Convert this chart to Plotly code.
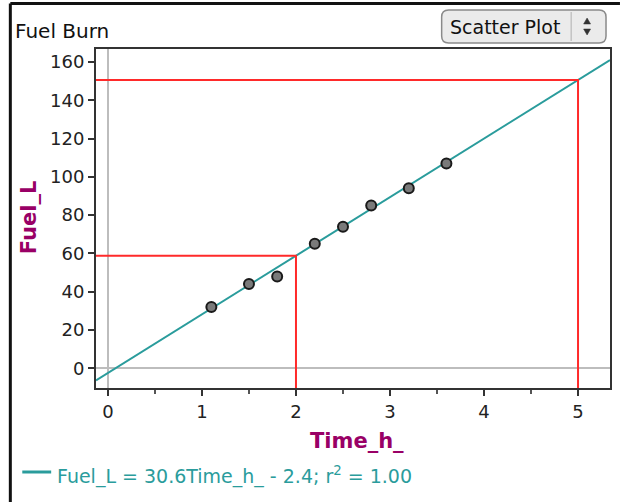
import plotly.graph_objects as go

# ---- data ----
time_h = [1.1, 1.5, 1.8, 2.2, 2.5, 2.8, 3.2, 3.6]
fuel_l = [32, 44, 48, 65, 74, 85, 94, 107]
slope = 30.6
intercept = -2.4
query_x = [2, 5]
x_ticks = [0, 1, 2, 3, 4, 5]
y_ticks = [0, 20, 40, 60, 80, 100, 120, 140, 160]
x_range = [-0.127, 5.34]
y_range = [-10.3, 166.8]

W, H = 620, 502
L, R, T, B = 96, 612, 49, 388
FONT = "DejaVu Sans, Verdana, sans-serif"
TEAL = "#2A9C9C"
RED = "#FF2A2A"
PURPLE = "#990066"


def px(x):
    return (x - L) / (R - L)


def py(y):
    return (B - y) / (B - T)


fig = go.Figure()

# regression line across the visible range
fig.add_trace(go.Scatter(
    x=x_range, y=[slope * v + intercept for v in x_range],
    mode="lines", line=dict(color=TEAL, width=2), hoverinfo="skip", showlegend=False))

# red read-off lines
for qx in query_x:
    qy = slope * qx + intercept
    fig.add_trace(go.Scatter(
        x=[x_range[0], qx, qx], y=[qy, qy, y_range[0]],
        mode="lines", line=dict(color=RED, width=2), hoverinfo="skip", showlegend=False))

# data points
fig.add_trace(go.Scatter(
    x=time_h, y=fuel_l, mode="markers",
    marker=dict(size=10, color="#7A7A7A", line=dict(color="#1A1A1A", width=2)),
    showlegend=False))

axis_common = dict(
    showgrid=False, zeroline=True, zerolinecolor="#BDBDBD", zerolinewidth=2,
    showline=True, linecolor="#333333", linewidth=2, mirror=True,
    ticks="outside", ticklen=6, tickwidth=2, tickcolor="#333333",
    tickfont=dict(family=FONT, size=18, color="#222222"),
)

fig.update_xaxes(range=x_range, tickvals=x_ticks,
                 minor=dict(tickvals=[0.5, 1.5, 2.5, 3.5, 4.5], ticks="outside",
                            ticklen=4, tickwidth=2, tickcolor="#555555"),
                 **axis_common)
fig.update_yaxes(range=y_range, tickvals=y_ticks, **axis_common)

shapes = []
# outer frame (top & left)
shapes.append(dict(type="line", xref="paper", yref="paper", x0=px(10), x1=px(622),
                   y0=py(3.5), y1=py(3.5), line=dict(color="#111111", width=3)))
shapes.append(dict(type="line", xref="paper", yref="paper", x0=px(10), x1=px(10),
                   y0=py(3.5), y1=py(504), line=dict(color="#111111", width=3)))

# dropdown box (rounded)
bx0, bx1, by0, by1, r = 443, 608, 10, 43, 7
path = (f"M {px(bx0 + r)},{py(by0)} L {px(bx1 - r)},{py(by0)} "
        f"Q {px(bx1)},{py(by0)} {px(bx1)},{py(by0 + r)} "
        f"L {px(bx1)},{py(by1 - r)} Q {px(bx1)},{py(by1)} {px(bx1 - r)},{py(by1)} "
        f"L {px(bx0 + r)},{py(by1)} Q {px(bx0)},{py(by1)} {px(bx0)},{py(by1 - r)} "
        f"L {px(bx0)},{py(by0 + r)} Q {px(bx0)},{py(by0)} {px(bx0 + r)},{py(by0)} Z")
shapes.append(dict(type="path", xref="paper", yref="paper", path=path,
                   fillcolor="#EBEBEB", line=dict(color="#8A8A8A", width=1.5)))
# separator
shapes.append(dict(type="line", xref="paper", yref="paper", x0=px(573), x1=px(573),
                   y0=py(12), y1=py(41), line=dict(color="#B0B0B0", width=1)))
# spinner arrows
cx = 589
up = f"M {px(cx - 3.5)},{py(24)} L {px(cx + 3.5)},{py(24)} L {px(cx)},{py(18)} Z"
dn = f"M {px(cx - 3.5)},{py(29)} L {px(cx + 3.5)},{py(29)} L {px(cx)},{py(35)} Z"
for p in (up, dn):
    shapes.append(dict(type="path", xref="paper", yref="paper", path=p,
                       fillcolor="#333333", line=dict(color="#333333", width=0.5)))
# legend swatch
shapes.append(dict(type="line", xref="paper", yref="paper", x0=px(22), x1=px(51),
                   y0=py(472), y1=py(472), line=dict(color=TEAL, width=3)))

annotations = [
    dict(text="Fuel Burn", x=px(13), y=py(31), xref="paper", yref="paper",
         xanchor="left", yanchor="middle", showarrow=False,
         font=dict(family=FONT, size=20, color="#111111")),
    dict(text="Scatter Plot", x=px(507), y=py(26.5), xref="paper", yref="paper",
         xanchor="center", yanchor="middle", showarrow=False,
         font=dict(family=FONT, size=19, color="#111111")),
    dict(text="<b>Time_h_</b>", x=px(358), y=py(441), xref="paper", yref="paper",
         xanchor="center", yanchor="middle", showarrow=False,
         font=dict(family=FONT, size=21, color=PURPLE)),
    dict(text="<b>Fuel_L</b>", x=px(29), y=py(217), xref="paper", yref="paper",
         xanchor="center", yanchor="middle", showarrow=False, textangle=-90,
         font=dict(family=FONT, size=21, color=PURPLE)),
    dict(text=f"Fuel_L = {slope}Time_h_ - {abs(intercept)}; r<sup>2</sup> = 1.00",
         x=px(55), y=py(475), xref="paper", yref="paper",
         xanchor="left", yanchor="middle", showarrow=False,
         font=dict(family=FONT, size=19, color=TEAL)),
]

fig.update_layout(
    width=W, height=H,
    margin=dict(l=L, r=W - R, t=T, b=H - B),
    paper_bgcolor="white", plot_bgcolor="white",
    shapes=shapes, annotations=annotations, showlegend=False,
)

fig.write_html("out.html", config={"displayModeBar": False},
               post_script="document.body.style.margin='0';document.body.style.padding='0';")
